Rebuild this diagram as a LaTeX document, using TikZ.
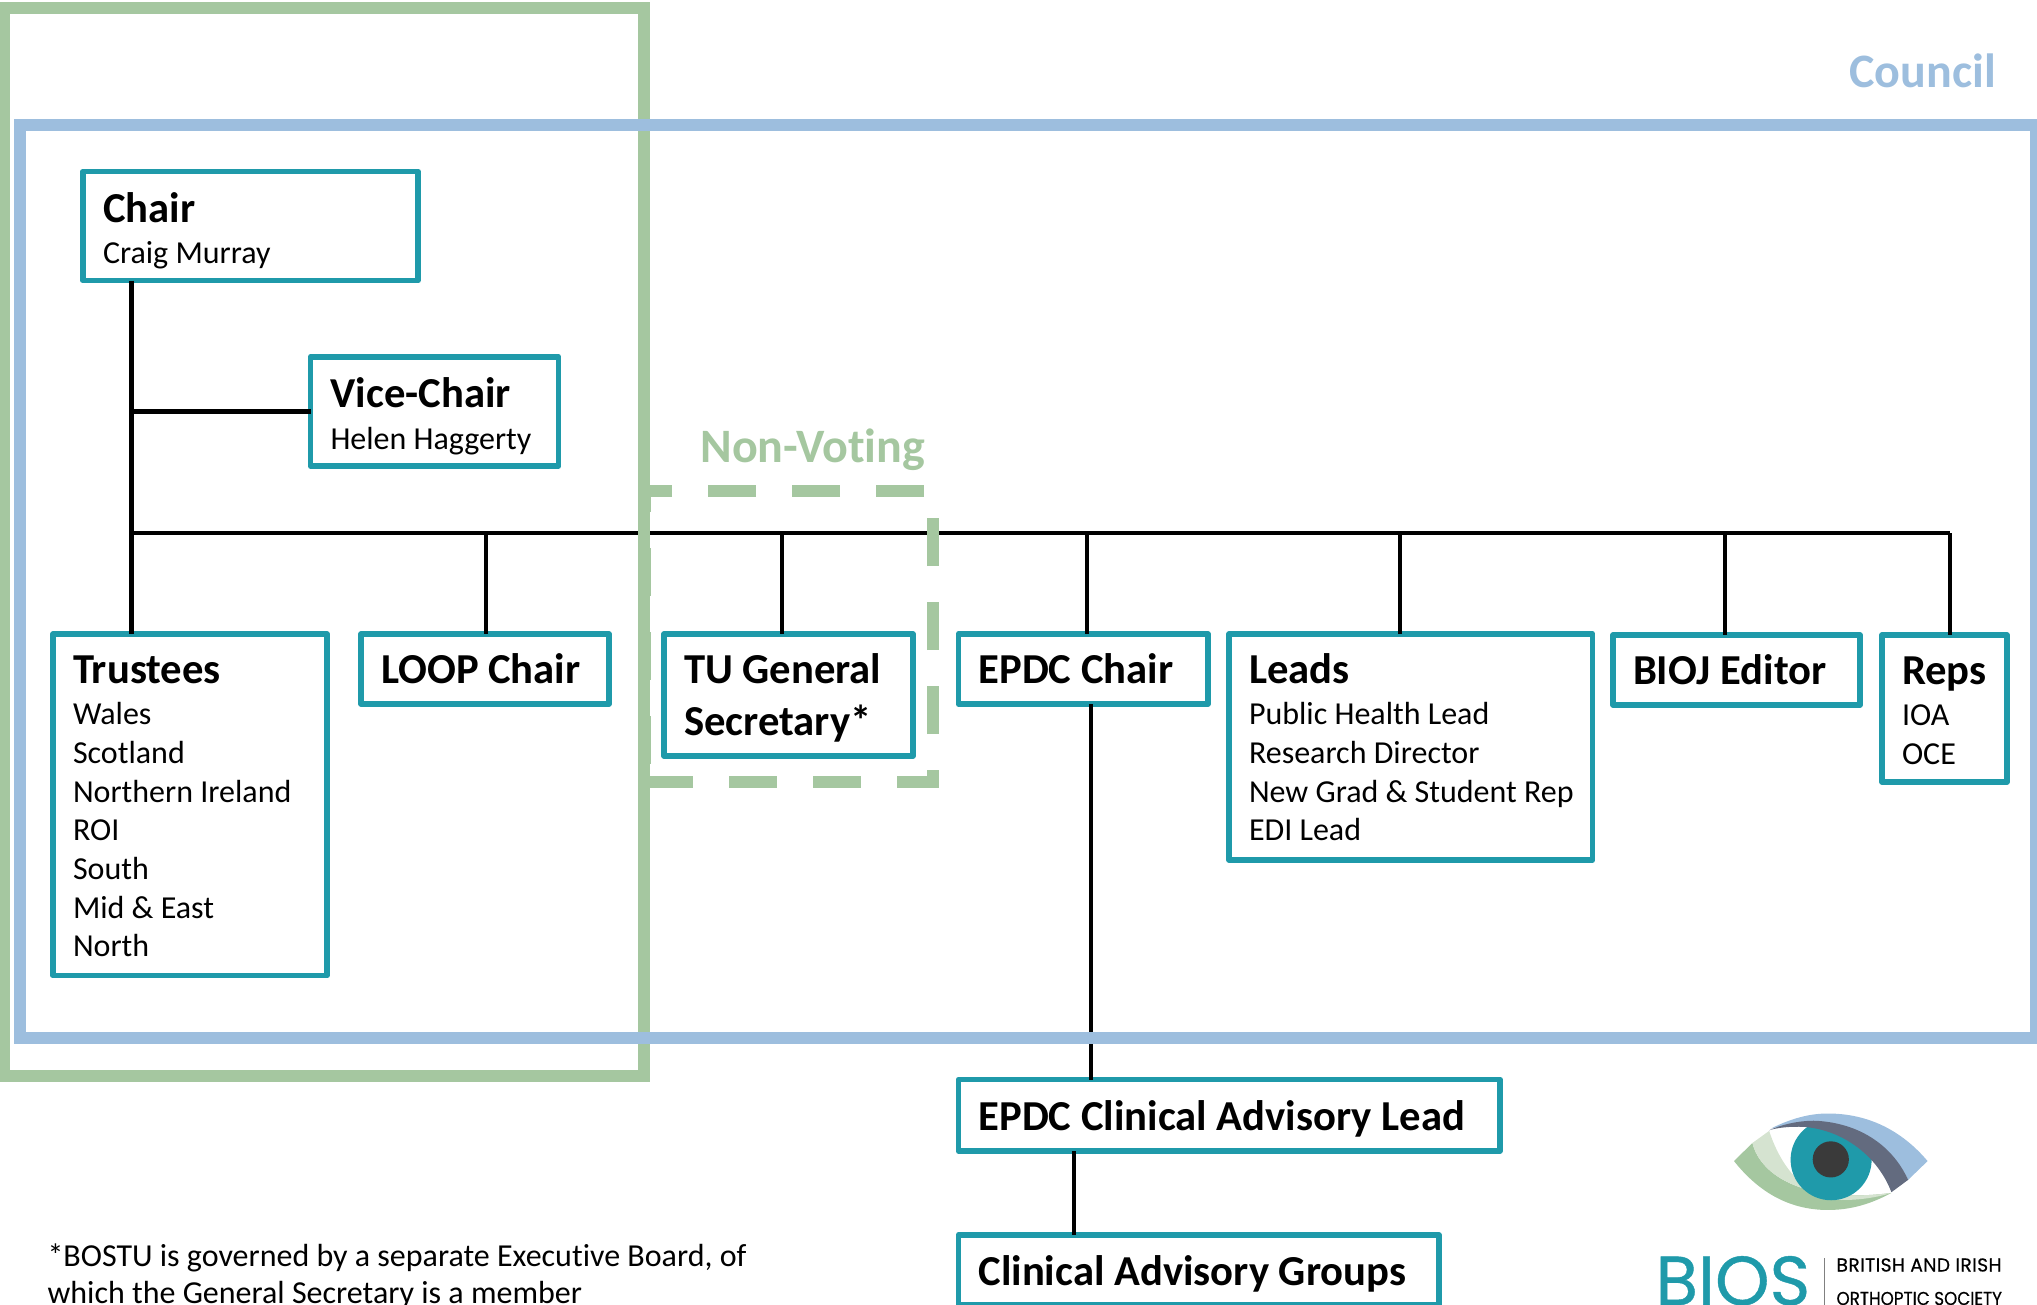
\documentclass[tikz,border=0pt]{standalone}
\usepackage{fontspec}
\setmainfont{Carlito}[Ligatures=NoCommon]
\newfontfamily\logofont{Poppins}[FakeBold=0.6]
\newfontfamily\logotopfont{Poppins}[FakeBold=0.4,LetterSpace=2.2]
\newfontfamily\logosubfont{Poppins}[FakeBold=0.4,FakeStretch=0.9]

\definecolor{boxteal}{HTML}{1F9AAA}
\definecolor{frameblue}{HTML}{9DBEDE}
\definecolor{framegreen}{HTML}{A5C7A0}
\definecolor{palegreen}{HTML}{D5E3D0}
\definecolor{eyeslate}{HTML}{636B7F}
\definecolor{eyedark}{HTML}{3A3A3A}

\newcommand{\titlefont}{\fontsize{32}{38}\selectfont\bfseries}
\newcommand{\boxtitle}[1]{{\titlefont #1}}

\tikzset{
  every picture/.style={line width=0.75pt},
  orgbox/.style n args={3}{draw=boxteal,line width=4.3pt,line join=round,fill=white,anchor=north west,
    outer sep=0pt,inner xsep=15pt,inner ysep=0pt,align=flush left,
    text width=0.75*#1pt-30pt,text height=#3pt,text depth=0.75*#2pt-#3pt,
    font=\fontsize{24}{29}\selectfont},
  orgline/.style={line width=3.2pt,black},
  frameline/.style={line width=9pt,miter limit=10},
  headlabel/.style={anchor=base west,inner sep=0pt,font=\fontsize{36}{43}\selectfont\bfseries}
}

\begin{document}
\begin{tikzpicture}[x=0.75pt,y=0.75pt,yscale=-1,xscale=1]
\useasboundingbox (0,0) rectangle (2037,1305);

% Boxes
\node [orgbox={335}{109}{38}] (chair) at (83,171.5) {\boxtitle{Chair}\\[2pt] Craig Murray};
\node [orgbox={248}{109}{38}] (vicechair) at (310.5,357) {\boxtitle{Vice-Chair}\\[2pt] Helen Haggerty};
\node [orgbox={274}{341.5}{37}] (trustees) at (53,634) {\boxtitle{Trustees}\\[2pt] Wales\\ Scotland\\ Northern Ireland\\ ROI\\ South\\ Mid \& East\\ North};
\node [orgbox={248}{70}{37}] (loopchair) at (361,634) {\boxtitle{LOOP Chair}};
\node [orgbox={249}{122}{37}] (tusec) at (664,634) {\titlefont TU General\\[10pt] Secretary*};
\node [orgbox={249.5}{70}{37}] (epdcchair) at (958.5,634) {\boxtitle{EPDC Chair}};
\node [orgbox={363.5}{226}{37}] (leads) at (1229,634) {\boxtitle{Leads}\\[2pt] Public Health Lead\\ Research Director\\ \mbox{New Grad \& Student Rep}\\ EDI Lead};
\node [orgbox={247}{70}{37}] (biojeditor) at (1613,635) {\boxtitle{BIOJ Editor}};
\node [orgbox={125}{147}{37}] (reps) at (1882,635) {\boxtitle{Reps}\\[2pt] IOA\\ OCE};
\node [orgbox={541.5}{71.5}{38}] (epdclead) at (958.5,1079.5) {\boxtitle{EPDC Clinical Advisory Lead}};
\node [orgbox={480.5}{70}{38}] (groups) at (958.5,1235) {\boxtitle{Clinical Advisory Groups}};

% Connectors
\coordinate (busleft) at (131.5,533);
\coordinate (busright) at (1950,533);
\draw [orgline] (chair.south -| busleft) -- (trustees.north -| busleft);
\draw [orgline] (vicechair.west) -- (vicechair.west -| busleft);
\draw [orgline] (busleft) -- (busright);
\draw [orgline] (busright) -- (reps.north -| busright);
\foreach \target/\dropx in {loopchair/486,tusec/782,epdcchair/1087,leads/1400,biojeditor/1725}
  \draw [orgline] (\dropx,533) -- (\dropx,533 |- \target.north);
\draw [orgline] (1091,0 |- epdcchair.south) -- (1091,0 |- epdclead.north);
\draw [orgline] (1074,0 |- epdclead.south) -- (1074,0 |- groups.north);

% Frames
\draw [frameline,framegreen] (4,8) rectangle (644,1076);
\draw [frameline,framegreen,dash pattern=on 36pt off 27pt] (645,782) -- (933,782) -- (933,491) -- (645,491) -- cycle;
\draw [frameline,frameblue] (19.5,125) rectangle (2036,1037.5);

% Text Node
\node [headlabel,text=frameblue] (council) at (1849,88) {Council};
% Text Node
\node [headlabel,text=framegreen] (nonvoting) at (700,462) {Non-Voting};
% Text Node
\node [anchor=base west,inner sep=0pt,align=flush left,text width=760pt,font=\fontsize{24}{28}\selectfont] (footnote) at (47,1266) {*BOSTU is governed by a separate Executive Board, of\\ which the General Secretary is a member};

% Logo eye
\begin{scope}[shift={(1600,1080)},x=0.2512pt,y=0.2512pt]
\fill [framegreen] (400,242) -- (455,188) .. controls (480,290) and (620,370) .. (870,337) .. controls (800,375) and (740,388) .. (680,388) .. controls (560,388) and (470,330) .. (400,242) -- cycle;
\fill [palegreen] (455,188) -- (505,152) .. controls (540,260) and (610,345) .. (710,358) .. controls (770,360) and (830,350) .. (870,337) .. controls (620,370) and (480,290) .. (455,188) -- cycle;
\fill [boxteal] (690,238) circle (121);
\fill [eyedark] (689,237) circle (54);
\fill [frameblue] (510,145) .. controls (570,115) and (625,100) .. (680,100) .. controls (800,100) and (900,150) .. (978,242) -- (920,298) .. controls (860,170) and (700,100) .. (510,145) -- cycle;
\fill [eyeslate] (505,150) .. controls (560,125) and (620,120) .. (650,122) .. controls (770,130) and (870,190) .. (920,298) -- (870,335) .. controls (830,230) and (730,150) .. (610,140) .. controls (570,138) and (530,142) .. (505,150) -- cycle;
\end{scope}

% Logo text
\node [anchor=base west,inner sep=0pt,text=boxteal,font=\logofont\fontsize{52}{52}\selectfont] (bios) at (1655,1305) {BIOS};
\coordinate (sepfoot) at (1824,1305);
\draw [line width=0.75pt,gray] (sepfoot) -- (1824,1258);
\node [anchor=base west,inner sep=0pt,font=\logotopfont\fontsize{14}{16}\selectfont] (logoline) at (1836,1271.5) {BRITISH AND IRISH};
\node [anchor=base west,inner sep=0pt,font=\logosubfont\fontsize{14}{16}\selectfont] (logosub) at (1836,1305) {ORTHOPTIC SOCIETY};
\end{tikzpicture}
\end{document}
